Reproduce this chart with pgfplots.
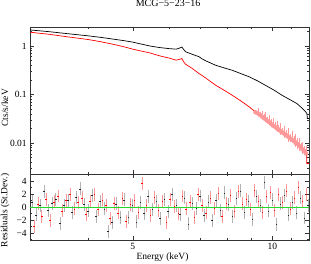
\documentclass[border=0pt]{standalone}
\usepackage{fontspec}
\setmainfont{Liberation Serif}
\usepackage{pgfplots}
\pgfplotsset{compat=1.18}
\definecolor{resgreen}{rgb}{0.15,0.85,0.15}
\definecolor{pinkerr}{rgb}{1,0.6,0.6}
\begin{document}
\fontsize{9.5}{10}\selectfont
\begin{tikzpicture}
\useasboundingbox (-30pt,-90pt) rectangle (281pt,174pt);
\pgfplotsset{
  every axis/.append style={
    scale only axis, width=279pt,
    font=\fontsize{9.5}{10}\selectfont,
    /pgf/number format/assume math mode=true,
    tick align=inside, major tick length=4pt, minor tick length=2pt,
    axis line style={line width=0.6pt, black!80},
    every tick/.style={line width=0.5pt, black!80},
    xmode=log, xmin=3, xmax=12,
    xtick={5,10}, minor xtick={3,4,6,7,8,9,11,12},
  },
}
% ---------------- top panel ----------------
\begin{axis}[
  at={(0pt,0pt)}, anchor=south west, height=147pt,
  ymode=log, ymin=0.0023, ymax=2.46,
  xticklabels={},
  ytick={0.01,0.1,1}, yticklabels={0.01,0.1,1},
  minor ytick={0.003,0.004,0.005,0.006,0.007,0.008,0.009,0.02,0.03,0.04,0.05,0.06,0.07,0.08,0.09,0.2,0.3,0.4,0.5,0.6,0.7,0.8,0.9,2},
  ylabel={Cts/s/keV},
  every axis y label/.style={at={(axis description cs:-0.0896,0.45)}, rotate=90, anchor=center},
  title={MCG−5−23−16},
  title style={at={(axis description cs:0.495,1.122)}, anchor=center, font=\fontsize{10}{11}\selectfont},
]
\addplot[pinkerr, only marks, mark=none, forget plot,
  error bars/.cd, y dir=both, y explicit, error mark=none,
  error bar style={pinkerr, line width=0.35pt}]
  table[y error plus index=2, y error minus index=3] {
E v p m
9.20 0.043 0.006 0.003
9.30 0.041 0.012 0.004
9.40 0.038 0.006 0.003
9.50 0.035 0.011 0.004
9.58 0.033 0.007 0.003
9.66 0.031 0.012 0.004
9.75 0.029 0.006 0.003
9.84 0.027 0.011 0.004
9.93 0.025 0.006 0.003
10.02 0.023 0.010 0.003
10.12 0.022 0.005 0.003
10.22 0.020 0.009 0.003
10.32 0.019 0.005 0.002
10.42 0.0175 0.008 0.003
10.52 0.0165 0.004 0.002
10.62 0.0155 0.007 0.003
10.72 0.0145 0.004 0.002
10.82 0.0135 0.007 0.003
10.92 0.0125 0.003 0.002
11.02 0.0118 0.006 0.002
11.12 0.0110 0.003 0.002
11.22 0.0103 0.005 0.002
11.32 0.0096 0.003 0.002
11.42 0.0088 0.004 0.002
11.52 0.0082 0.002 0.0015
11.62 0.0074 0.003 0.0015
11.72 0.0068 0.002 0.0012
11.82 0.0061 0.0025 0.0012
};
\addplot[black, line width=0.7pt] table {
E v
3.0 2.14
3.3 1.97
3.6 1.80
4.0 1.62
4.25 1.51
4.5 1.40
4.75 1.30
5.0 1.20
5.2 1.10
5.44 1.00
5.7 0.93
6.0 0.88
6.2 0.86
6.3 0.90
6.38 0.95
6.45 0.83
6.5 0.76
6.7 0.68
6.95 0.60
7.06 0.54
7.2 0.49
7.55 0.40
7.9 0.35
8.2 0.315
8.55 0.27
8.93 0.23
9.3 0.19
9.66 0.155
10.1 0.122
10.5 0.096
10.9 0.079
11.3 0.065
11.6 0.052
11.8 0.044
11.88 0.040
11.9 0.032
12.0 0.032
};
\addplot[red, line width=0.7pt] table {
E v
3.0 1.92
3.3 1.74
3.6 1.55
4.0 1.36
4.25 1.23
4.5 1.10
4.75 0.98
5.0 0.86
5.2 0.79
5.44 0.72
5.7 0.63
6.0 0.56
6.2 0.51
6.3 0.53
6.38 0.55
6.45 0.46
6.5 0.42
6.7 0.35
6.95 0.27
7.06 0.245
7.2 0.215
7.55 0.155
7.9 0.12
8.2 0.096
8.55 0.074
8.93 0.055
9.3 0.040
9.66 0.029
10.1 0.021
10.5 0.0156
10.9 0.0122
11.3 0.0097
11.6 0.0072
11.8 0.0060
11.86 0.0058
11.87 0.0038
12.0 0.0038
};
\end{axis}
% ---------------- residual panel ----------------
\begin{axis}[
  at={(0pt,0pt)}, anchor=north west, height=66pt,
  ymin=-5.1, ymax=5.1,
  xticklabels={5,10},
  ytick={-4,-2,0,2,4}, yticklabels={−4,−2,0,2,4},
  minor ytick={-5,-3,-1,1,3,5},
  ylabel={Residuals (St.Dev.)},
  every axis y label/.style={at={(axis description cs:-0.0896,0.45)}, rotate=90, anchor=center},
  xlabel={Energy (keV)},
  every axis x label/.style={at={(axis description cs:0.475,-0.258)}, anchor=center},
]
\addplot[black, only marks, mark=-, mark size=0.8pt, mark options={black!85, line width=0.5pt},
  error bars/.cd, y dir=both, y fixed=1, error mark=none,
  error bar style={black!30, line width=0.55pt}]
  table {
E r
3.03 0.8
3.09 -1.2
3.15 0.3
3.22 2.4
3.28 -0.5
3.35 0.6
3.41 1.2
3.48 -2.5
3.55 0.2
3.62 1.0
3.70 -0.8
3.77 1.5
3.85 2.8
3.92 0.4
4.00 -0.6
4.08 1.8
4.17 -1.4
4.25 0.9
4.34 -0.3
4.42 -3.8
4.51 -2.4
4.60 0.5
4.70 -1.6
4.79 1.1
4.89 -1.6
4.99 0.2
5.09 -2.3
5.19 0.7
5.29 -1.0
5.40 1.6
5.51 -0.4
5.62 0.9
5.73 -1.8
5.85 1.2
5.96 -0.7
6.08 2.0
6.21 0.3
6.33 -1.1
6.46 1.4
6.59 -2.6
6.72 0.6
6.86 -0.2
6.99 1.7
7.13 -1.3
7.28 0.8
7.42 -2.1
7.57 1.0
7.73 -0.5
7.88 2.2
8.04 0.4
8.20 -1.5
8.37 1.3
8.54 2.5
8.71 -0.8
8.88 0.9
9.06 -1.9
9.24 1.6
9.43 0.2
9.62 3.8
9.81 -0.6
10.01 1.1
10.21 -2.7
10.42 0.5
10.63 1.8
10.84 -1.2
11.06 0.7
11.28 -0.9
11.51 1.4
11.74 -1.7
11.95 0.3
};
\addplot[red, only marks, mark=-, mark size=0.8pt, mark options={red, line width=0.5pt},
  error bars/.cd, y dir=both, y fixed=1, error mark=none,
  error bar style={pinkerr, line width=0.55pt}]
  table {
E r
3.06 -3.0
3.12 0.5
3.18 -1.5
3.25 1.2
3.31 -2.1
3.38 0.8
3.45 1.7
3.52 -0.6
3.59 1.0
3.66 1.9
3.74 -0.3
3.81 0.7
3.89 1.4
3.96 -1.1
4.04 0.9
4.13 2.0
4.21 -0.4
4.30 1.1
4.38 0.2
4.47 -1.8
4.56 0.6
4.65 -0.9
4.75 1.3
4.84 -2.2
4.94 0.4
5.04 1.0
5.14 -0.8
5.24 3.6
5.35 0.2
5.46 -1.3
5.57 1.5
5.68 -0.5
5.79 0.9
5.91 -2.4
6.02 1.2
6.15 0.1
6.27 -1.0
6.40 1.7
6.52 -0.3
6.65 0.8
6.79 -1.6
6.92 1.9
7.06 0.3
7.20 -0.9
7.35 1.4
7.50 -0.2
7.65 2.1
7.80 -1.4
7.96 0.6
8.12 1.8
8.29 -0.7
8.45 2.4
8.62 0.5
8.80 1.2
8.97 -0.4
9.15 2.6
9.34 0.9
9.52 -0.8
9.71 1.6
9.91 2.3
10.11 -0.5
10.32 1.9
10.52 0.7
10.74 2.5
10.95 -0.3
11.17 1.4
11.40 3.0
11.62 0.9
11.85 2.0
};
\addplot[resgreen, line width=0.7pt] coordinates {(3,0) (12,0)};
\end{axis}
\end{tikzpicture}
\end{document}
